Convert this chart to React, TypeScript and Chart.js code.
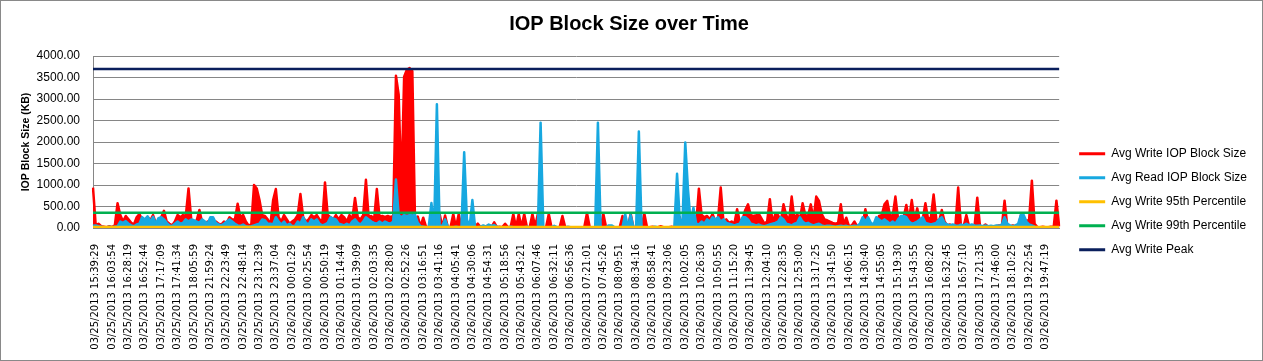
import React, { useEffect, useRef } from 'react';
import { Chart, registerables } from 'chart.js';

Chart.register(...registerables);

const tickLabels = [
  '03/25/2013 15:39:29', '03/25/2013 16:03:54', '03/25/2013 16:28:19', '03/25/2013 16:52:44',
  '03/25/2013 17:17:09', '03/25/2013 17:41:34', '03/25/2013 18:05:59', '03/25/2013 21:59:24',
  '03/25/2013 22:23:49', '03/25/2013 22:48:14', '03/25/2013 23:12:39', '03/25/2013 23:37:04',
  '03/26/2013 00:01:29', '03/26/2013 00:25:54', '03/26/2013 00:50:19', '03/26/2013 01:14:44',
  '03/26/2013 01:39:09', '03/26/2013 02:03:35', '03/26/2013 02:28:00', '03/26/2013 02:52:26',
  '03/26/2013 03:16:51', '03/26/2013 03:41:16', '03/26/2013 04:05:41', '03/26/2013 04:30:06',
  '03/26/2013 04:54:31', '03/26/2013 05:18:56', '03/26/2013 05:43:21', '03/26/2013 06:07:46',
  '03/26/2013 06:32:11', '03/26/2013 06:56:36', '03/26/2013 07:21:01', '03/26/2013 07:45:26',
  '03/26/2013 08:09:51', '03/26/2013 08:34:16', '03/26/2013 08:58:41', '03/26/2013 09:23:06',
  '03/26/2013 10:02:05', '03/26/2013 10:26:30', '03/26/2013 10:50:55', '03/26/2013 11:15:20',
  '03/26/2013 11:39:45', '03/26/2013 12:04:10', '03/26/2013 12:28:35', '03/26/2013 12:53:00',
  '03/26/2013 13:17:25', '03/26/2013 13:41:50', '03/26/2013 14:06:15', '03/26/2013 14:30:40',
  '03/26/2013 14:55:05', '03/26/2013 15:19:30', '03/26/2013 15:43:55', '03/26/2013 16:08:20',
  '03/26/2013 16:32:45', '03/26/2013 16:57:10', '03/26/2013 17:21:35', '03/26/2013 17:46:00',
  '03/26/2013 18:10:25', '03/26/2013 19:22:54', '03/26/2013 19:47:19',
];

// samples between two labelled timestamps
const samplesPerLabel = 6;

const avgWriteBlockSize = [
  940, 60, 100, 40, 30, 20, 40, 20, 60, 575,
  300, 150, 280, 200, 120, 80, 250, 325, 200, 150,
  260, 180, 300, 120, 150, 250, 400, 150, 100, 60,
  150, 300, 250, 300, 280, 920, 200, 150, 180, 420,
  120, 100, 150, 80, 60, 150, 100, 80, 150, 120,
  250, 200, 200, 565, 250, 300, 150, 60, 80, 1000,
  920, 650, 300, 280, 200, 80, 650, 905, 250, 150,
  300, 200, 100, 150, 200, 300, 790, 250, 150, 200,
  300, 250, 300, 200, 150, 1060, 300, 250, 200, 300, 200,
  300, 250, 150, 300, 200, 700, 250, 200, 300, 1120,
  250, 280, 200, 905, 250, 280, 250, 280, 250, 280,
  3540, 3100, 900, 3520, 3680, 3720, 3650, 120, 265, 40,
  240, 30, 20, 30, 20, 30, 325, 30, 290, 20,
  20, 325, 20, 325, 20, 20, 30, 20, 20, 30,
  100, 20, 20, 40, 60, 20, 130, 20, 30, 20,
  100, 20, 20, 325, 20, 325, 20, 325, 20, 20,
  325, 40, 325, 20, 20, 20, 325, 20, 20, 20,
  20, 280, 20, 20, 20, 20, 20, 20, 20, 20,
  350, 20, 20, 20, 20, 20, 325, 20, 20, 20,
  20, 20, 20, 280, 20, 20, 330, 20, 20, 20,
  20, 340, 20, 20, 30, 20, 20, 40, 20, 20,
  20, 30, 20, 20, 250, 40, 30, 20, 20, 40,
  80, 915, 300, 250, 280, 200, 325, 150, 200, 940,
  150, 200, 120, 150, 100, 435, 150, 200, 420, 550,
  300, 280, 300, 325, 210, 100, 150, 670, 120, 325,
  300, 150, 550, 300, 150, 730, 200, 325, 200, 575,
  300, 280, 550, 200, 730, 630, 325, 200, 180, 150, 120,
  100, 120, 550, 80, 240, 40, 60, 150, 40, 60,
  80, 435, 150, 80, 60, 80, 280, 300, 550, 630,
  300, 280, 730, 200, 150, 250, 535, 200, 650, 200,
  457, 150, 200, 575, 200, 250, 780, 200, 150, 420,
  150, 60, 80, 40, 60, 940, 60, 40, 300, 40,
  50, 40, 705, 40, 30, 80, 30, 40, 30, 40,
  60, 40, 635, 40, 30, 60, 40, 30, 300, 250,
  150, 200, 1100, 100, 20, 20, 30, 20, 20, 30,
  20, 635, 40,
];

const avgReadBlockSize = [
  50, 60, 40, 30, 20, 20, 30, 20, 30, 40,
  150, 120, 160, 100, 60, 40, 80, 100, 250, 200,
  270, 150, 260, 100, 230, 250, 200, 120, 60, 40,
  100, 150, 100, 120, 200, 150, 200, 180, 150, 120,
  200, 150, 100, 250, 250, 120, 80, 60, 100, 150,
  200, 150, 100, 60, 50, 80, 40, 30, 40, 60,
  80, 100, 200, 180, 100, 100, 80, 250, 150, 80,
  150, 60, 100, 40, 50, 150, 100, 250, 120, 80,
  200, 150, 200, 100, 60, 80, 120, 250, 220, 200, 100,
  80, 60, 100, 60, 150, 200, 120, 80, 150, 250,
  200, 150, 120, 100, 150, 100, 150, 120, 100, 150,
  1130, 300, 250, 300, 280, 300, 290, 300, 120, 40,
  30, 20, 20, 580, 30, 2880, 60, 50, 200, 30,
  20, 20, 30, 20, 20, 1760, 200, 30, 650, 20,
  20, 30, 60, 30, 80, 50, 70, 30, 20, 20,
  20, 20, 30, 20, 20, 20, 20, 20, 30, 20,
  20, 20, 20, 2450, 20, 20, 20, 20, 50, 20,
  20, 20, 20, 30, 20, 20, 20, 20, 20, 20,
  20, 20, 20, 20, 2450, 20, 20, 20, 60, 60,
  20, 20, 20, 20, 325, 20, 300, 20, 20, 2245,
  20, 20, 20, 20, 20, 30, 20, 20, 20, 20,
  20, 20, 20, 1260, 200, 150, 1990, 900, 120, 470,
  100, 80, 150, 100, 200, 150, 250, 200, 250, 150,
  200, 120, 100, 80, 60, 80, 100, 250, 250, 200,
  100, 80, 60, 80, 50, 40, 60, 80, 100, 120,
  150, 250, 200, 100, 80, 60, 100, 120, 250, 150,
  100, 120, 80, 60, 80, 100, 60, 40, 50, 50, 40,
  30, 40, 50, 40, 50, 30, 40, 50, 40, 100,
  250, 150, 250, 120, 80, 250, 200, 150, 200, 150,
  100, 150, 100, 200, 280, 280, 250, 150, 100, 120,
  150, 200, 250, 120, 100, 80, 100, 120, 200, 250,
  120, 80, 60, 80, 60, 50, 80, 60, 100, 60,
  80, 60, 50, 60, 40, 60, 40, 50, 40, 60,
  50, 80, 250, 100, 60, 40, 60, 100, 310, 300,
  150, 80, 60, 30, 20, 10, 20, 10, 20, 10,
  20, 10, 20,
];

const avgWrite95thPercentile = 25;
const avgWrite99thPercentile = 355;
const avgWritePeak = 3700;

const yMin = 0;
const yMax = 4000;
const yStep = 500;

const seriesNames = [
  'Avg Write IOP Block Size',
  'Avg Read IOP Block Size',
  'Avg Write 95th Percentile',
  'Avg Write 99th Percentile',
  'Avg Write Peak',
];
const seriesColors = ['#FF0000', '#17A8E0', '#FFC000', '#00B050', '#0A1F5C'];

export default function App() {
  const canvasRef = useRef<HTMLCanvasElement | null>(null);

  useEffect(() => {
    if (!canvasRef.current) return;
    const labels = avgWriteBlockSize.map((_, i) =>
      i % samplesPerLabel === 1 ? tickLabels[(i - 1) / samplesPerLabel] ?? '' : ''
    );
    const n = labels.length;
    const values = [
      avgWriteBlockSize,
      avgReadBlockSize,
      new Array(n).fill(avgWrite95thPercentile),
      new Array(n).fill(avgWrite99thPercentile),
      new Array(n).fill(avgWritePeak),
    ];
    const drawOrder = [5, 4, 3, 2, 1];
    const filled = [true, true, false, false, false];

    const chart = new Chart(canvasRef.current, {
      type: 'line',
      data: {
        labels,
        datasets: values.map((data, i) => ({
          label: seriesNames[i],
          data,
          borderColor: seriesColors[i],
          backgroundColor: seriesColors[i],
          borderWidth: 2.5,
          pointRadius: 0,
          pointHoverRadius: 0,
          tension: 0,
          fill: filled[i] ? 'origin' : false,
          borderJoinStyle: 'round' as const,
          order: drawOrder[i],
        })),
      },
      options: {
        animation: false,
        responsive: false,
        maintainAspectRatio: false,
        events: [],
        color: '#000',
        layout: { padding: { left: 0, right: 5, top: 0, bottom: 0 } },
        plugins: {
          title: {
            display: true,
            text: 'IOP Block Size over Time',
            color: '#000',
            font: { family: 'Liberation Sans', size: 20, weight: 'bold' },
            padding: { top: 11, bottom: 20 },
          },
          legend: {
            position: 'right',
            align: 'center',
            title: {
              display: true,
              text: '',
              font: { family: 'Liberation Sans', size: 12 },
              padding: { top: 0, bottom: 28 },
            },
            labels: {
              color: '#000',
              font: { family: 'Liberation Sans', size: 12 },
              boxWidth: 26,
              boxHeight: 3,
              padding: 12,
              sort: (a: any, b: any) => a.datasetIndex - b.datasetIndex,
              generateLabels: (c: any) =>
                Chart.defaults.plugins.legend.labels
                  .generateLabels(c)
                  .map((item: any) => ({ ...item, lineWidth: 0 })),
            },
          },
          tooltip: { enabled: false },
        },
        scales: {
          x: {
            type: 'category',
            grid: { display: false },
            border: { display: true, color: '#868686' },
            ticks: {
              autoSkip: false,
              minRotation: 90,
              maxRotation: 90,
              padding: 8,
              color: '#000',
              font: { family: 'DejaVu Sans', size: 10 },
            },
            afterFit: (scale: any) => {
              scale.height = 132;
            },
          },
          y: {
            min: yMin,
            max: yMax,
            grid: { color: '#868686', lineWidth: 1, drawTicks: false },
            border: { display: true, color: '#868686' },
            ticks: {
              stepSize: yStep,
              padding: 13,
              color: '#000',
              font: { family: 'Liberation Sans', size: 12 },
              callback: (v: any) => Number(v).toFixed(2),
            },
            title: {
              display: true,
              text: 'IOP Block Size (KB)',
              color: '#000',
              font: { family: 'Liberation Sans', size: 10.5, weight: 'bold' },
              padding: { top: 19, bottom: 0 },
            },
            afterFit: (scale: any) => {
              scale.width = 92;
            },
          },
          spacer: {
            type: 'linear',
            position: 'right',
            display: true,
            grid: { display: false, drawTicks: false },
            border: { display: false },
            ticks: { display: false },
            afterFit: (scale: any) => {
              scale.width = 8;
            },
          },
        },
      } as any,
    });

    return () => chart.destroy();
  }, []);

  return (
    <div
      style={{
        position: 'fixed',
        left: 0,
        top: 0,
        width: 1263,
        height: 361,
        border: '1px solid #898989',
        boxSizing: 'border-box',
        background: '#fff',
      }}
    >
      <canvas ref={canvasRef} width={1261} height={359} style={{ display: 'block' }} />
    </div>
  );
}
